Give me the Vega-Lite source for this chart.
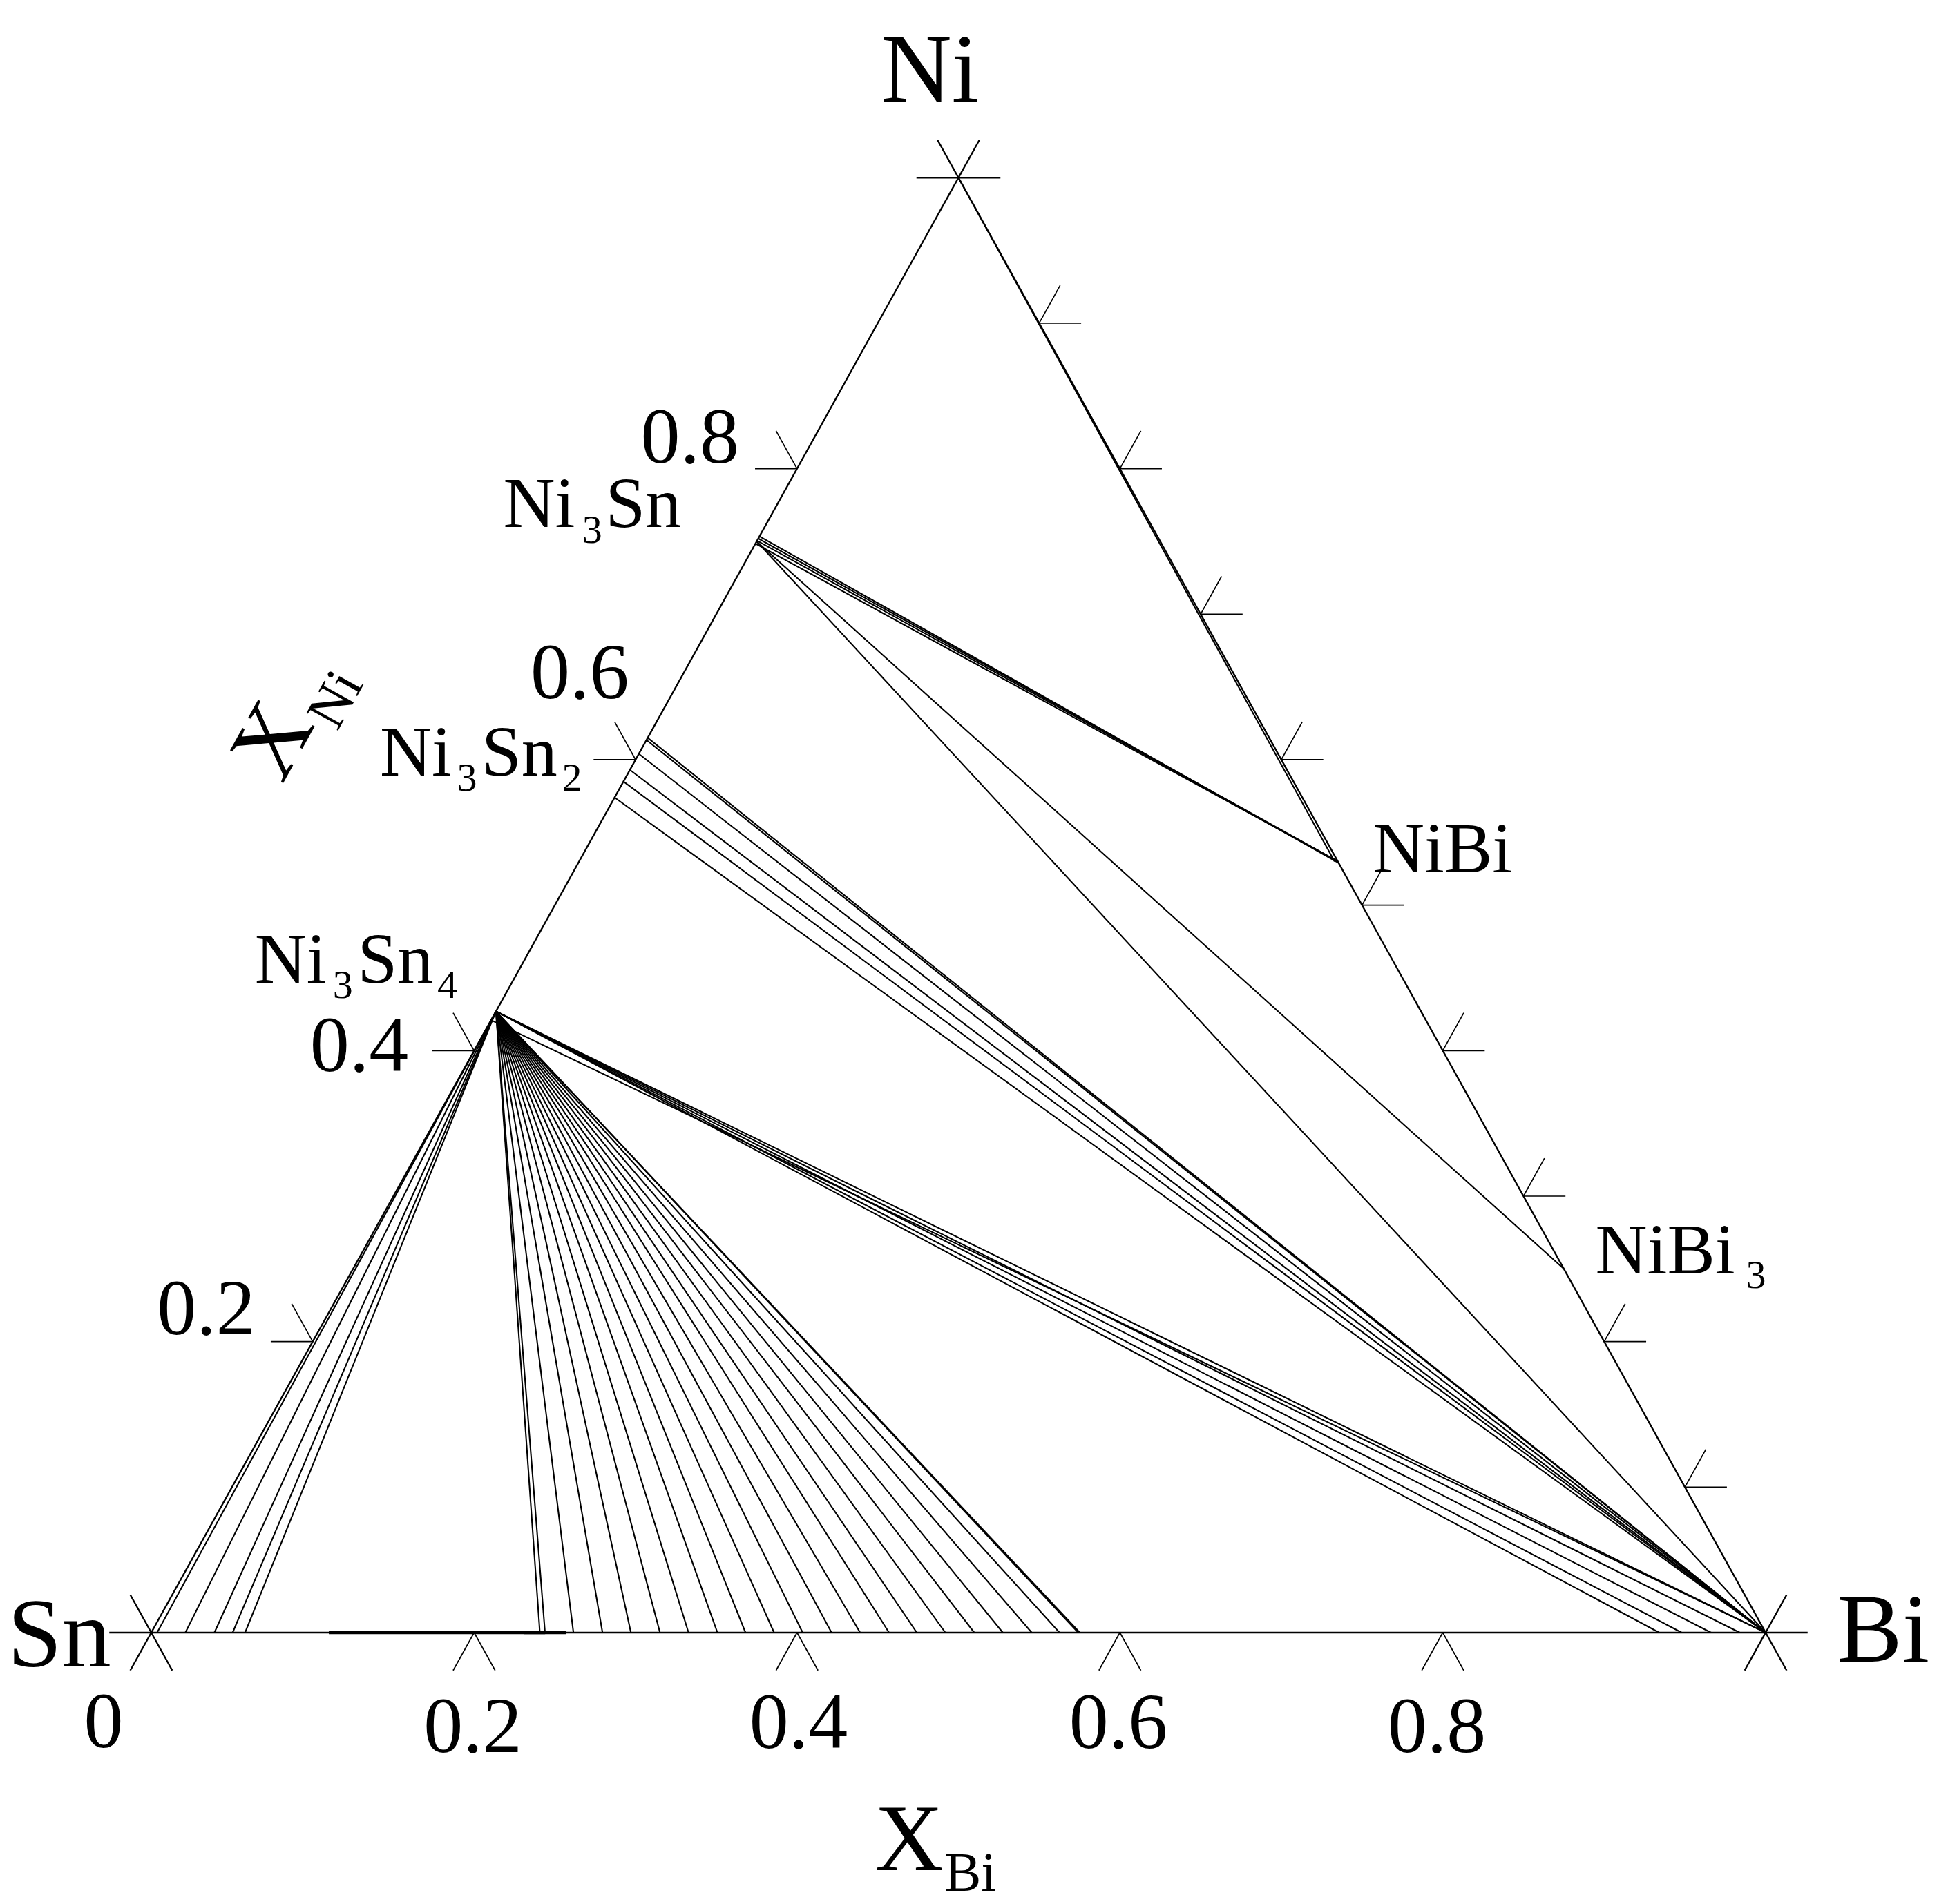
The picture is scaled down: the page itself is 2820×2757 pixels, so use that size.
{
  "$schema": "https://vega.github.io/schema/vega-lite/v6.json",
  "width": 2820,
  "height": 2757,
  "autosize": {"type": "none"},
  "padding": 0,
  "background": "white",
  "config": {"view": {"stroke": null}},
  "datasets": {
    "frame": [
      {"x1": -0.026, "y1": 0, "x2": 1.026, "y2": 0},
      {"x1": -0.013, "y1": -0.026, "x2": 0.513, "y2": 1.026},
      {"x1": 0.487, "y1": 1.026, "x2": 1.013, "y2": -0.026},
      {"x1": -0.013, "y1": 0.026, "x2": 0.013, "y2": -0.026},
      {"x1": 0.987, "y1": -0.026, "x2": 1.013, "y2": 0.026},
      {"x1": 0.474, "y1": 1, "x2": 0.526, "y2": 1}
    ],
    "ticks": [
      {"x1": 0.187, "y1": -0.026, "x2": 0.2, "y2": 0}, {"x1": 0.2, "y1": 0, "x2": 0.213, "y2": -0.026},
      {"x1": 0.387, "y1": -0.026, "x2": 0.4, "y2": 0}, {"x1": 0.4, "y1": 0, "x2": 0.413, "y2": -0.026},
      {"x1": 0.587, "y1": -0.026, "x2": 0.6, "y2": 0}, {"x1": 0.6, "y1": 0, "x2": 0.613, "y2": -0.026},
      {"x1": 0.787, "y1": -0.026, "x2": 0.8, "y2": 0}, {"x1": 0.8, "y1": 0, "x2": 0.813, "y2": -0.026},
      {"x1": 0.074, "y1": 0.2, "x2": 0.1, "y2": 0.2}, {"x1": 0.087, "y1": 0.226, "x2": 0.1, "y2": 0.2},
      {"x1": 0.174, "y1": 0.4, "x2": 0.2, "y2": 0.4}, {"x1": 0.187, "y1": 0.426, "x2": 0.2, "y2": 0.4},
      {"x1": 0.274, "y1": 0.6, "x2": 0.3, "y2": 0.6}, {"x1": 0.287, "y1": 0.626, "x2": 0.3, "y2": 0.6},
      {"x1": 0.374, "y1": 0.8, "x2": 0.4, "y2": 0.8}, {"x1": 0.387, "y1": 0.826, "x2": 0.4, "y2": 0.8},
      {"x1": 0.95, "y1": 0.1, "x2": 0.976, "y2": 0.1}, {"x1": 0.95, "y1": 0.1, "x2": 0.963, "y2": 0.126},
      {"x1": 0.9, "y1": 0.2, "x2": 0.926, "y2": 0.2}, {"x1": 0.9, "y1": 0.2, "x2": 0.913, "y2": 0.226},
      {"x1": 0.85, "y1": 0.3, "x2": 0.876, "y2": 0.3}, {"x1": 0.85, "y1": 0.3, "x2": 0.863, "y2": 0.326},
      {"x1": 0.8, "y1": 0.4, "x2": 0.826, "y2": 0.4}, {"x1": 0.8, "y1": 0.4, "x2": 0.813, "y2": 0.426},
      {"x1": 0.75, "y1": 0.5, "x2": 0.776, "y2": 0.5}, {"x1": 0.75, "y1": 0.5, "x2": 0.763, "y2": 0.526},
      {"x1": 0.7, "y1": 0.6, "x2": 0.726, "y2": 0.6}, {"x1": 0.7, "y1": 0.6, "x2": 0.713, "y2": 0.626},
      {"x1": 0.65, "y1": 0.7, "x2": 0.676, "y2": 0.7}, {"x1": 0.65, "y1": 0.7, "x2": 0.663, "y2": 0.726},
      {"x1": 0.6, "y1": 0.8, "x2": 0.626, "y2": 0.8}, {"x1": 0.6, "y1": 0.8, "x2": 0.613, "y2": 0.826},
      {"x1": 0.55, "y1": 0.9, "x2": 0.576, "y2": 0.9}, {"x1": 0.55, "y1": 0.9, "x2": 0.563, "y2": 0.926}
    ],
    "ties": [
      {"x1": 0.37425, "y1": 0.7485, "x2": 0.735, "y2": 0.53},
      {"x1": 0.37525, "y1": 0.7505, "x2": 0.735, "y2": 0.53},
      {"x1": 0.376, "y1": 0.752, "x2": 0.735, "y2": 0.53},
      {"x1": 0.37675, "y1": 0.7535, "x2": 0.7355, "y2": 0.529},
      {"x1": 0.375, "y1": 0.75, "x2": 0.875, "y2": 0.25},
      {"x1": 0.375, "y1": 0.75, "x2": 1, "y2": 0},
      {"x1": 0.5, "y1": 1, "x2": 0.733, "y2": 0.53},
      {"x1": 0.3075, "y1": 0.615, "x2": 1, "y2": 0},
      {"x1": 0.30675, "y1": 0.6135, "x2": 1, "y2": 0},
      {"x1": 0.302, "y1": 0.604, "x2": 1, "y2": 0},
      {"x1": 0.2965, "y1": 0.593, "x2": 1, "y2": 0},
      {"x1": 0.2925, "y1": 0.585, "x2": 1, "y2": 0},
      {"x1": 0.287, "y1": 0.574, "x2": 1, "y2": 0},
      {"x1": 0.2135, "y1": 0.427, "x2": 0.2407, "y2": 0},
      {"x1": 0.2135, "y1": 0.427, "x2": 0.2439, "y2": 0},
      {"x1": 0.2135, "y1": 0.427, "x2": 0.2615, "y2": 0},
      {"x1": 0.2135, "y1": 0.427, "x2": 0.2795, "y2": 0},
      {"x1": 0.2135, "y1": 0.427, "x2": 0.2971, "y2": 0},
      {"x1": 0.2135, "y1": 0.427, "x2": 0.3151, "y2": 0},
      {"x1": 0.2135, "y1": 0.427, "x2": 0.3328, "y2": 0},
      {"x1": 0.2135, "y1": 0.427, "x2": 0.3507, "y2": 0},
      {"x1": 0.2135, "y1": 0.427, "x2": 0.3681, "y2": 0},
      {"x1": 0.2135, "y1": 0.427, "x2": 0.3858, "y2": 0},
      {"x1": 0.2135, "y1": 0.427, "x2": 0.4035, "y2": 0},
      {"x1": 0.2135, "y1": 0.427, "x2": 0.4214, "y2": 0},
      {"x1": 0.2135, "y1": 0.427, "x2": 0.4391, "y2": 0},
      {"x1": 0.2135, "y1": 0.427, "x2": 0.457, "y2": 0},
      {"x1": 0.2135, "y1": 0.427, "x2": 0.4742, "y2": 0},
      {"x1": 0.2135, "y1": 0.427, "x2": 0.4919, "y2": 0},
      {"x1": 0.2135, "y1": 0.427, "x2": 0.5098, "y2": 0},
      {"x1": 0.2135, "y1": 0.427, "x2": 0.5275, "y2": 0},
      {"x1": 0.2135, "y1": 0.427, "x2": 0.5454, "y2": 0},
      {"x1": 0.2135, "y1": 0.427, "x2": 0.5626, "y2": 0},
      {"x1": 0.2135, "y1": 0.427, "x2": 0.5742, "y2": 0},
      {"x1": 0.2135, "y1": 0.427, "x2": 0.5752, "y2": 0},
      {"x1": 0.2135, "y1": 0.427, "x2": 0.0036, "y2": 0},
      {"x1": 0.2135, "y1": 0.427, "x2": 0.0211, "y2": 0},
      {"x1": 0.2135, "y1": 0.427, "x2": 0.0391, "y2": 0},
      {"x1": 0.2135, "y1": 0.427, "x2": 0.0504, "y2": 0},
      {"x1": 0.2135, "y1": 0.427, "x2": 0.0581, "y2": 0},
      {"x1": 0.2135, "y1": 0.427, "x2": 1, "y2": 0},
      {"x1": 0.2105, "y1": 0.421, "x2": 1, "y2": 0},
      {"x1": 0.2135, "y1": 0.427, "x2": 0.9341, "y2": 0},
      {"x1": 0.2135, "y1": 0.427, "x2": 0.948, "y2": 0},
      {"x1": 0.2135, "y1": 0.427, "x2": 0.9662, "y2": 0},
      {"x1": 0.2135, "y1": 0.427, "x2": 0.984, "y2": 0}
    ],
    "thick": [
      {"x1": 0.11, "y1": 0, "x2": 0.257, "y2": 0},
      {"x1": 0.231, "y1": 0, "x2": 0.244, "y2": 0}
    ],
    "bigLabels": [
      {"t": "Ni", "x": 0.45199, "y": 1.05221},
      {"t": "Sn", "x": -0.08909, "y": -0.02326},
      {"t": "Bi", "x": 1.04407, "y": -0.01994}
    ],
    "names": [
      {"t": "Ni", "x": 0.21801, "y": 0.75981},
      {"t": "Sn", "x": 0.28134, "y": 0.75981},
      {"t": "Ni", "x": 0.14164, "y": 0.58893},
      {"t": "Sn", "x": 0.20454, "y": 0.58893},
      {"t": "Ni", "x": 0.06406, "y": 0.44681},
      {"t": "Sn", "x": 0.12768, "y": 0.44681},
      {"t": "NiBi", "x": 0.75653, "y": 0.52248},
      {"t": "NiBi", "x": 0.89448, "y": 0.24683}
    ],
    "subs": [
      {"t": "3", "x": 0.26692, "y": 0.74904},
      {"t": "3", "x": 0.1893, "y": 0.57863},
      {"t": "2", "x": 0.25443, "y": 0.57863},
      {"t": "3", "x": 0.11245, "y": 0.43623},
      {"t": "4", "x": 0.17715, "y": 0.43623},
      {"t": "3", "x": 0.9878, "y": 0.23686}
    ],
    "tickLabels": [
      {"t": "0", "x": -0.02953, "y": -0.0788},
      {"t": "0.2", "x": 0.19923, "y": -0.08198},
      {"t": "0.4", "x": 0.40094, "y": -0.0795},
      {"t": "0.6", "x": 0.59906, "y": -0.0795},
      {"t": "0.8", "x": 0.79632, "y": -0.08198},
      {"t": "0.8", "x": 0.33363, "y": 0.8041},
      {"t": "0.6", "x": 0.26543, "y": 0.64238},
      {"t": "0.4", "x": 0.1288, "y": 0.38605},
      {"t": "0.2", "x": 0.03402, "y": 0.20506}
    ],
    "titleMain": [
      {"t": "X", "x": 0.44801, "y": -0.16343}
    ],
    "titleSub": [
      {"t": "Bi", "x": 0.49123, "y": -0.17753}
    ],
    "rotMain": [
      {"t": "X", "x": 0.07604, "y": 0.61266}
    ],
    "rotSub": [
      {"t": "Ni", "x": 0.11455, "y": 0.64114}
    ]
  },
  "layer": [
    {
      "data": {"name": "frame"},
      "mark": {"type": "rule", "color": "black", "strokeWidth": 2.4},
      "encoding": {
        "x": {"field": "x1", "type": "quantitative", "scale": {"domain": [-0.09371, 1.11297], "nice": false, "zero": false}, "axis": null},
        "y": {"field": "y1", "type": "quantitative", "scale": {"domain": [-0.18655, 1.12213], "nice": false, "zero": false}, "axis": null},
        "x2": {"field": "x2"},
        "y2": {"field": "y2"}
      }
    },
    {
      "data": {"name": "ticks"},
      "mark": {"type": "rule", "color": "black", "strokeWidth": 1.7},
      "encoding": {
        "x": {"field": "x1", "type": "quantitative", "scale": {"domain": [-0.09371, 1.11297], "nice": false, "zero": false}, "axis": null},
        "y": {"field": "y1", "type": "quantitative", "scale": {"domain": [-0.18655, 1.12213], "nice": false, "zero": false}, "axis": null},
        "x2": {"field": "x2"},
        "y2": {"field": "y2"}
      }
    },
    {
      "data": {"name": "ties"},
      "mark": {"type": "rule", "color": "black", "strokeWidth": 2.1},
      "encoding": {
        "x": {"field": "x1", "type": "quantitative", "scale": {"domain": [-0.09371, 1.11297], "nice": false, "zero": false}, "axis": null},
        "y": {"field": "y1", "type": "quantitative", "scale": {"domain": [-0.18655, 1.12213], "nice": false, "zero": false}, "axis": null},
        "x2": {"field": "x2"},
        "y2": {"field": "y2"}
      }
    },
    {
      "data": {"name": "thick"},
      "mark": {"type": "rule", "color": "black", "strokeWidth": 4.5},
      "encoding": {
        "x": {"field": "x1", "type": "quantitative", "scale": {"domain": [-0.09371, 1.11297], "nice": false, "zero": false}, "axis": null},
        "y": {"field": "y1", "type": "quantitative", "scale": {"domain": [-0.18655, 1.12213], "nice": false, "zero": false}, "axis": null},
        "x2": {"field": "x2"},
        "y2": {"field": "y2"}
      }
    },
    {
      "data": {"name": "bigLabels"},
      "mark": {"type": "text", "font": "Liberation Serif", "fontSize": 142, "align": "left", "baseline": "alphabetic", "color": "black"},
      "encoding": {
        "x": {"field": "x", "type": "quantitative", "scale": {"domain": [-0.09371, 1.11297], "nice": false, "zero": false}, "axis": null},
        "y": {"field": "y", "type": "quantitative", "scale": {"domain": [-0.18655, 1.12213], "nice": false, "zero": false}, "axis": null},
        "text": {"field": "t"}
      }
    },
    {
      "data": {"name": "names"},
      "mark": {"type": "text", "font": "Liberation Serif", "fontSize": 104, "align": "left", "baseline": "alphabetic", "color": "black"},
      "encoding": {
        "x": {"field": "x", "type": "quantitative", "scale": {"domain": [-0.09371, 1.11297], "nice": false, "zero": false}, "axis": null},
        "y": {"field": "y", "type": "quantitative", "scale": {"domain": [-0.18655, 1.12213], "nice": false, "zero": false}, "axis": null},
        "text": {"field": "t"}
      }
    },
    {
      "data": {"name": "subs"},
      "mark": {"type": "text", "font": "Liberation Serif", "fontSize": 58, "align": "left", "baseline": "alphabetic", "color": "black"},
      "encoding": {
        "x": {"field": "x", "type": "quantitative", "scale": {"domain": [-0.09371, 1.11297], "nice": false, "zero": false}, "axis": null},
        "y": {"field": "y", "type": "quantitative", "scale": {"domain": [-0.18655, 1.12213], "nice": false, "zero": false}, "axis": null},
        "text": {"field": "t"}
      }
    },
    {
      "data": {"name": "tickLabels"},
      "mark": {"type": "text", "font": "Liberation Serif", "fontSize": 114, "align": "center", "baseline": "alphabetic", "color": "black"},
      "encoding": {
        "x": {"field": "x", "type": "quantitative", "scale": {"domain": [-0.09371, 1.11297], "nice": false, "zero": false}, "axis": null},
        "y": {"field": "y", "type": "quantitative", "scale": {"domain": [-0.18655, 1.12213], "nice": false, "zero": false}, "axis": null},
        "text": {"field": "t"}
      }
    },
    {
      "data": {"name": "titleMain"},
      "mark": {"type": "text", "font": "Liberation Serif", "fontSize": 138, "align": "left", "baseline": "alphabetic", "color": "black"},
      "encoding": {
        "x": {"field": "x", "type": "quantitative", "scale": {"domain": [-0.09371, 1.11297], "nice": false, "zero": false}, "axis": null},
        "y": {"field": "y", "type": "quantitative", "scale": {"domain": [-0.18655, 1.12213], "nice": false, "zero": false}, "axis": null},
        "text": {"field": "t"}
      }
    },
    {
      "data": {"name": "titleSub"},
      "mark": {"type": "text", "font": "Liberation Serif", "fontSize": 80, "align": "left", "baseline": "alphabetic", "color": "black"},
      "encoding": {
        "x": {"field": "x", "type": "quantitative", "scale": {"domain": [-0.09371, 1.11297], "nice": false, "zero": false}, "axis": null},
        "y": {"field": "y", "type": "quantitative", "scale": {"domain": [-0.18655, 1.12213], "nice": false, "zero": false}, "axis": null},
        "text": {"field": "t"}
      }
    },
    {
      "data": {"name": "rotMain"},
      "mark": {"type": "text", "font": "Liberation Serif", "fontSize": 138, "align": "center", "baseline": "middle", "angle": -61, "color": "black"},
      "encoding": {
        "x": {"field": "x", "type": "quantitative", "scale": {"domain": [-0.09371, 1.11297], "nice": false, "zero": false}, "axis": null},
        "y": {"field": "y", "type": "quantitative", "scale": {"domain": [-0.18655, 1.12213], "nice": false, "zero": false}, "axis": null},
        "text": {"field": "t"}
      }
    },
    {
      "data": {"name": "rotSub"},
      "mark": {"type": "text", "font": "Liberation Serif", "fontSize": 80, "align": "center", "baseline": "middle", "angle": -61, "color": "black"},
      "encoding": {
        "x": {"field": "x", "type": "quantitative", "scale": {"domain": [-0.09371, 1.11297], "nice": false, "zero": false}, "axis": null},
        "y": {"field": "y", "type": "quantitative", "scale": {"domain": [-0.18655, 1.12213], "nice": false, "zero": false}, "axis": null},
        "text": {"field": "t"}
      }
    }
  ]
}
